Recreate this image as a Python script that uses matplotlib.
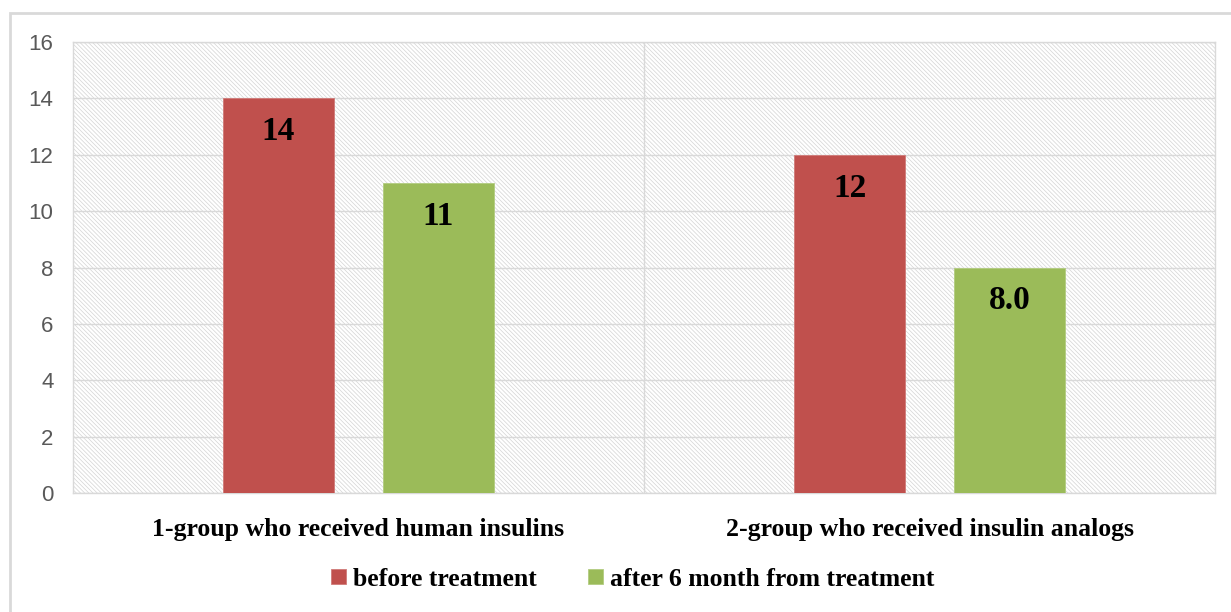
import numpy as np
import matplotlib.pyplot as plt
from matplotlib.patches import Rectangle

groups = ["1-group who received human insulins", "2-group who received insulin analogs"]
before = [14, 12]
after = [11, 8]
before_labels = ["14", "12"]
after_labels = ["11", "8.0"]
series_names = ["before treatment", "after 6 month from treatment"]

red = "#C0504D"
green = "#9BBB59"
grey = "#D9D9D9"
serif = "Liberation Serif"

plt.rcParams['hatch.linewidth'] = 0.5

fig = plt.figure(figsize=(12.31, 6.12), dpi=100)
ax = fig.add_axes([73/1231, 1 - 493/612, (1215 - 73)/1231, (493 - 42)/612])

# outer chart border
fig.patches.append(Rectangle((10/1231, -0.1), 1.2, 1 - 13/612 + 0.1, transform=fig.transFigure,
                             fill=False, edgecolor=grey, linewidth=2))

# hatched plot area
ax.add_patch(Rectangle((0, 0), 1, 1, transform=ax.transAxes, facecolor="none",
                       edgecolor="#D4D4D4", linewidth=0, hatch="\\" * 8, zorder=0))

x = np.arange(len(groups))
w = 0.195
off = 0.14
b1 = ax.bar(x - off, before, w, color=red, edgecolor="#D07A78", linewidth=0.6, zorder=3, label=series_names[0])
b2 = ax.bar(x + off, after, w, color=green, edgecolor="#B2CC80", linewidth=0.6, zorder=3, label=series_names[1])

for bars, labels in [(b1, before_labels), (b2, after_labels)]:
    for rect, lab in zip(bars, labels):
        ax.annotate(lab, (rect.get_x() + rect.get_width()/2, rect.get_height()),
                    xytext=(0, -24), textcoords="offset points", ha="center", va="center",
                    fontsize=24, fontweight="bold", family=serif, zorder=4)

ax.set_xlim(-0.5, 1.5)
ax.set_ylim(0, 16)
ax.set_yticks(np.arange(0, 17, 2))
ax.yaxis.grid(True, color=grey, linewidth=1, zorder=1)
ax.axvline(0.5, color=grey, linewidth=1, zorder=1)
ax.set_axisbelow(True)
for s in ax.spines.values():
    s.set_color(grey)
    s.set_linewidth(1)

ax.tick_params(axis="y", length=0, pad=14, labelsize=16, labelcolor="#595959")
ax.tick_params(axis="x", length=0, pad=18)
ax.set_xticks(x)
ax.set_xticklabels(groups, fontsize=18.5, fontweight="bold", family=serif)
for t in ax.get_yticklabels():
    t.set_family("Liberation Sans")

leg = fig.legend(handles=[b1, b2], labels=series_names, loc="center", ncol=2,
                 bbox_to_anchor=(633/1231, 1 - 579/612), frameon=False,
                 prop={"family": serif, "weight": "bold", "size": 18.5},
                 handlelength=0.55, handleheight=0.55, handletextpad=0.3, columnspacing=2.0)

fig.savefig("out.png", dpi=100)
